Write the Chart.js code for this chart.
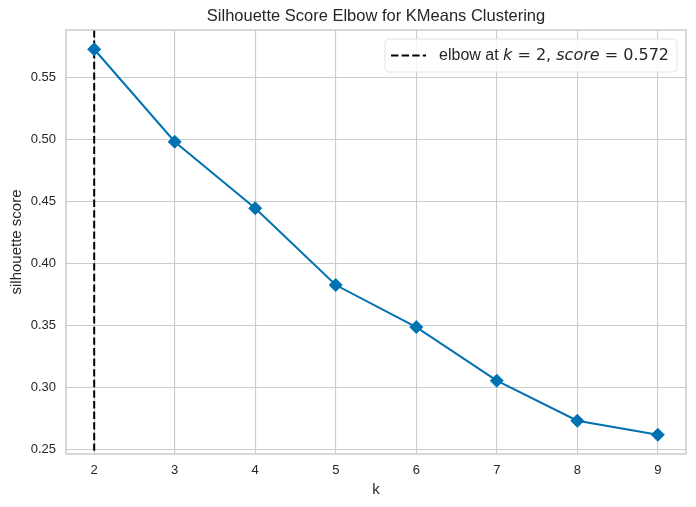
<!DOCTYPE html>
<html>
<head>
<meta charset="utf-8">
<script src="https://cdn.jsdelivr.net/npm/chart.js@4"></script>
<style>
  html, body { margin: 0; padding: 0; background: #fff; }
  #wrap { width: 696px; height: 507px; }
</style>
</head>
<body>
<div id="wrap"><canvas id="elbowChart"></canvas></div>
<script>
// Data
const kValues = [2, 3, 4, 5, 6, 7, 8, 9];
const scores = [0.5726, 0.498, 0.4444, 0.3825, 0.3486, 0.3054, 0.2731, 0.2618];
const yTickValues = [0.25, 0.30, 0.35, 0.40, 0.45, 0.50, 0.55];
const xLimits = [1.65, 9.35];
const yLimits = [0.2463, 0.5881];
const elbowK = 2;
const elbowScore = 0.572;
const chartTitle = 'Silhouette Score Elbow for KMeans Clustering';

const textColor = '#262626';
const gridColor = '#cccccc';
const lineColor = '#0072B2';

// frame round the plot area (matplotlib spines) + title centred over it
const framePlugin = {
    id: 'frame',
    afterDraw(chart) {
        const { ctx, chartArea: a } = chart;
        ctx.save();
        ctx.strokeStyle = gridColor;
        ctx.lineWidth = 1.5;
        ctx.strokeRect(a.left, a.top, a.right - a.left, a.bottom - a.top);
        ctx.fillStyle = textColor;
        ctx.font = '16.5px "Liberation Sans", Arial, sans-serif';
        ctx.textAlign = 'center';
        ctx.textBaseline = 'middle';
        ctx.fillText(chartTitle, (a.left + a.right) / 2, 16);
        ctx.restore();
    }
};

// dashed elbow line at k
const elbowPlugin = {
    id: 'elbowLine',
    beforeDatasetsDraw(chart) {
        const { ctx, chartArea: a, scales } = chart;
        const x = scales.x.getPixelForValue(elbowK);
        ctx.save();
        ctx.strokeStyle = '#000';
        ctx.lineWidth = 2;
        ctx.setLineDash([7.4, 3.2]);
        ctx.beginPath();
        ctx.moveTo(x, a.top);
        ctx.lineTo(x, a.bottom);
        ctx.stroke();
        ctx.restore();
    }
};

// legend box, top right inside the plot
const legendPlugin = {
    id: 'elbowLegend',
    afterDraw(chart) {
        const { ctx, chartArea: a } = chart;
        const parts = [
            ['elbow at ', '16px "Liberation Sans", Arial, sans-serif'],
            ['k', 'italic 16px "DejaVu Sans", sans-serif'],
            [' = ' + elbowK + ', ', '16px "DejaVu Sans", sans-serif'],
            ['score', 'italic 16px "DejaVu Sans", sans-serif'],
            [' = ' + elbowScore.toFixed(3), '16px "DejaVu Sans", sans-serif']
        ];
        ctx.save();
        let textW = 0;
        parts.forEach(p => { ctx.font = p[1]; textW += ctx.measureText(p[0]).width; });
        const right = a.right - 9, top = a.top + 9, h = 33;
        const w = textW + 62;
        const left = right - w;
        ctx.beginPath();
        ctx.roundRect(left, top, w, h, 4);
        ctx.fillStyle = 'rgba(255,255,255,0.8)';
        ctx.fill();
        ctx.strokeStyle = 'rgba(220,220,220,0.8)';
        ctx.lineWidth = 1;
        ctx.stroke();
        const cy = top + h / 2;
        ctx.strokeStyle = '#000';
        ctx.lineWidth = 2;
        ctx.setLineDash([7.4, 3.2]);
        ctx.beginPath();
        ctx.moveTo(left + 6, cy);
        ctx.lineTo(left + 41, cy);
        ctx.stroke();
        ctx.setLineDash([]);
        ctx.fillStyle = textColor;
        ctx.textBaseline = 'middle';
        let x = left + 54;
        parts.forEach(p => {
            ctx.font = p[1];
            ctx.fillText(p[0], x, cy);
            x += ctx.measureText(p[0]).width;
        });
        ctx.restore();
    }
};

const ctx = document.getElementById('elbowChart');
new Chart(ctx, {
    type: 'line',
    data: {
        datasets: [{
            label: 'silhouette score',
            data: kValues.map((k, i) => ({ x: k, y: scores[i] })),
            borderColor: lineColor,
            backgroundColor: lineColor,
            borderWidth: 2,
            pointStyle: 'rectRot',
            pointRadius: 6.5,
            pointBorderWidth: 1,
            pointBorderColor: lineColor,
            pointBackgroundColor: lineColor,
            tension: 0
        }]
    },
    options: {
        responsive: true,
        maintainAspectRatio: false,
        animation: false,
        layout: { padding: { left: 0, right: 10, top: 30, bottom: 0 } },
        plugins: {
            legend: { display: false },
            tooltip: { enabled: false },
            title: { display: false }
        },
        scales: {
            x: {
                type: 'linear',
                min: xLimits[0],
                max: xLimits[1],
                afterBuildTicks: s => { s.ticks = kValues.map(v => ({ value: v })); },
                afterFit: s => { s.height = 53; },
                grid: { color: gridColor, lineWidth: 1.1, drawTicks: false },
                border: { display: false },
                ticks: {
                    color: textColor,
                    padding: 9,
                    font: { family: '"Liberation Sans", Arial, sans-serif', size: 13 },
                    callback: v => String(v)
                },
                title: {
                    display: true,
                    text: 'k',
                    color: textColor,
                    font: { family: '"Liberation Sans", Arial, sans-serif', size: 15 },
                    padding: { top: 0, bottom: 8 }
                }
            },
            y: {
                type: 'linear',
                min: yLimits[0],
                max: yLimits[1],
                afterBuildTicks: s => { s.ticks = yTickValues.map(v => ({ value: v })); },
                afterFit: s => { s.width = 66; },
                grid: { color: gridColor, lineWidth: 1.1, drawTicks: false },
                border: { display: false },
                ticks: {
                    color: textColor,
                    padding: 10,
                    font: { family: '"Liberation Sans", Arial, sans-serif', size: 13 },
                    callback: v => v.toFixed(2)
                },
                title: {
                    display: true,
                    text: 'silhouette score',
                    color: textColor,
                    font: { family: '"Liberation Sans", Arial, sans-serif', size: 15 },
                    padding: { top: 8, bottom: 0 }
                }
            }
        }
    },
    plugins: [elbowPlugin, framePlugin, legendPlugin]
});
</script>
</body>
</html>
